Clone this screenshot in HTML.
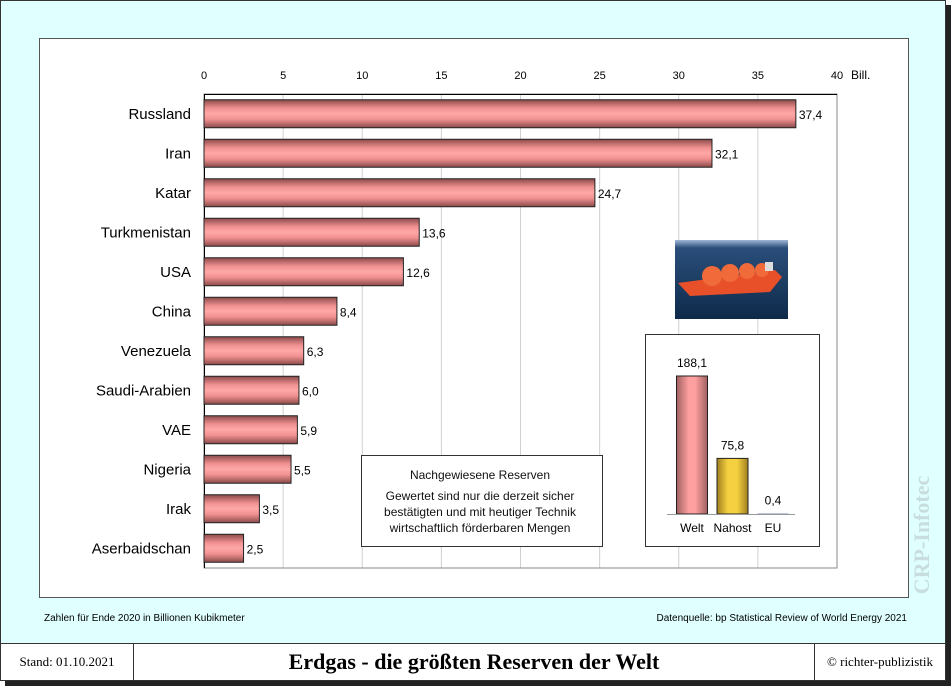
<!DOCTYPE html>
<html><head><meta charset="utf-8">
<style>
body{margin:0;width:951px;height:686px;background:#fff;overflow:hidden;font-family:"Liberation Sans",sans-serif}
svg{display:block}
</style></head>
<body>
<svg id="chart" width="951" height="686" xmlns="http://www.w3.org/2000/svg">
<defs>
<linearGradient id="barG" x1="0" y1="0" x2="0" y2="1">
<stop offset="0" stop-color="#8a4a4a"/><stop offset="0.3" stop-color="#f09090"/>
<stop offset="0.5" stop-color="#ffa8a8"/><stop offset="0.7" stop-color="#f09090"/><stop offset="1" stop-color="#8a4a4a"/>
</linearGradient>
<linearGradient id="vG" x1="0" y1="0" x2="1" y2="0">
<stop offset="0" stop-color="#a06060"/><stop offset="0.4" stop-color="#ffa0a0"/><stop offset="0.6" stop-color="#ffa0a0"/><stop offset="1" stop-color="#a06060"/>
</linearGradient>
<linearGradient id="yG" x1="0" y1="0" x2="1" y2="0">
<stop offset="0" stop-color="#a08020"/><stop offset="0.35" stop-color="#f5d040"/><stop offset="0.65" stop-color="#f5d040"/><stop offset="1" stop-color="#a08020"/>
</linearGradient>
<linearGradient id="sea" x1="0" y1="0" x2="0" y2="1">
<stop offset="0" stop-color="#9fb8d8"/><stop offset="0.1" stop-color="#2a4e7a"/><stop offset="1" stop-color="#0e2a4a"/>
</linearGradient>
</defs>
<rect x="5" y="5" width="946" height="681" fill="#222"/>
<rect x="0.5" y="0.5" width="945" height="680" fill="#e0ffff" stroke="#333"/>
<rect x="39.5" y="38.5" width="869" height="559" fill="#fff" stroke="#555"/>
<g id="grid"></g>
<g id="bars"></g>
<text x="851" y="79" font-size="12">Bill.</text>
<rect x="361.5" y="455.5" width="241" height="91" fill="#fff" stroke="#333"/>
<g font-size="12" text-anchor="middle" fill="#111">
<text x="480" y="479">Nachgewiesene Reserven</text>
<text x="480" y="500">Gewertet sind nur die derzeit sicher</text>
<text x="480" y="516">bestätigten und mit heutiger Technik</text>
<text x="480" y="532">wirtschaftlich förderbaren Mengen</text>
</g>
<g>
<rect x="675" y="240" width="113" height="79" fill="url(#sea)"/>
<path d="M678 283 L775 270 L782 277 L770 292 L690 296 Z" fill="#e8502a"/>
<circle cx="712" cy="276" r="10" fill="#f06a3a"/><circle cx="730" cy="273" r="9" fill="#f06a3a"/>
<circle cx="747" cy="271" r="8" fill="#f06a3a"/><circle cx="762" cy="270" r="7" fill="#f06a3a"/>
<rect x="765" y="262" width="8" height="9" fill="#ddd"/>
</g>
<rect x="645.5" y="334.5" width="174" height="212" fill="#fff" stroke="#333"/>
<g id="inset"></g>
<text x="929" y="535" font-family="Liberation Serif,serif" font-size="22" font-weight="bold" fill="#c8dede" transform="rotate(-90 929 535)" text-anchor="middle">CRP-Infotec</text>
<text x="44" y="621" font-size="10">Zahlen für Ende 2020 in Billionen Kubikmeter</text>
<text x="907" y="621" font-size="10" text-anchor="end">Datenquelle: bp Statistical Review of World Energy 2021</text>
<rect x="1" y="644" width="944" height="36" fill="#fff"/>
<line x1="0" y1="643.5" x2="945" y2="643.5" stroke="#333"/>
<line x1="133.5" y1="643" x2="133.5" y2="680" stroke="#333"/>
<line x1="814.5" y1="643" x2="814.5" y2="680" stroke="#333"/>
<text x="67" y="666" font-family="Liberation Serif,serif" font-size="13" text-anchor="middle">Stand: 01.10.2021</text>
<text x="474" y="669" font-family="Liberation Serif,serif" font-size="22" font-weight="bold" text-anchor="middle">Erdgas - die größten Reserven der Welt</text>
<text x="880" y="666" font-family="Liberation Serif,serif" font-size="13" text-anchor="middle">© richter-publizistik</text>
</svg>
<script>
const categories=["Russland","Iran","Katar","Turkmenistan","USA","China","Venezuela","Saudi-Arabien","VAE","Nigeria","Irak","Aserbaidschan"];
const values=[37.4,32.1,24.7,13.6,12.6,8.4,6.3,6.0,5.9,5.5,3.5,2.5];
const ticks=[0,5,10,15,20,25,30,35,40];
const insetCats=["Welt","Nahost","EU"];
const insetValues=[188.1,75.8,0.4];
const NS="http://www.w3.org/2000/svg";
function mk(t,a,p){const e=document.createElementNS(NS,t);for(const k in a)e.setAttribute(k,a[k]);p.appendChild(e);return e;}
const X0=204,X1=837,PTOP=94,PBOT=568;
const xs=v=>X0+(v-ticks[0])/(ticks[ticks.length-1]-ticks[0])*(X1-X0);
const rowH=(PBOT-PTOP)/categories.length;
const yc=i=>PTOP+rowH*(i+0.5);
const fmt=v=>v.toFixed(1).replace('.',',');
const grid=document.getElementById('grid');
ticks.forEach(t=>{
  const l=mk('line',{x1:xs(t),x2:xs(t),y1:PTOP,y2:PBOT,stroke:'#d0d0d0'},grid);
  
  
  const tx=mk('text',{x:xs(t),y:79,'font-size':11,'text-anchor':'middle'},grid);tx.textContent=t;
  
  
});
mk('rect',{x:X0,y:PTOP,width:X1-X0,height:PBOT-PTOP,fill:'none',stroke:'#888'},grid);
mk('line',{x1:X0+0.5,x2:X0+0.5,y1:PTOP,y2:PBOT,stroke:'#000'},grid);
mk('line',{x1:X0,x2:X1,y1:PTOP+0.5,y2:PTOP+0.5,stroke:'#000'},grid);
const bars=document.getElementById('bars');
categories.forEach((c,i)=>{
  const y=yc(i),h=28;
  const r=mk('rect',{x:X0,y:y-h/2,width:xs(values[i])-X0,height:h,fill:'url(#barG)',stroke:'#222','stroke-width':1},bars);
  
  
  const lb=mk('text',{x:191,y:y+5,'font-size':15,'text-anchor':'end'},bars);lb.textContent=c;
  
  
  const vl=mk('text',{x:xs(values[i])+3,y:y+5,'font-size':12},bars);vl.textContent=fmt(values[i]);
  
  
});
const ins=document.getElementById('inset');
const base=514,maxH=138,maxV=188.1;
const fills=['url(#vG)','url(#yG)','#1a3a9a'];
insetCats.forEach((c,i)=>{
  const cx=692+i*40.5,h=insetValues[i]/maxV*maxH;
  const r=mk('rect',{x:cx-15.5,y:base-h,width:31,height:Math.max(h,1),fill:fills[i],stroke:i<2?'#222':'none'},ins);
  
  
  const v=mk('text',{x:cx,y:base-h-9,'font-size':12,'text-anchor':'middle'},ins);v.textContent=fmt(insetValues[i]);
  
  
  const l=mk('text',{x:cx,y:532,'font-size':12,'text-anchor':'middle'},ins);l.textContent=c;
  
  
});
const bl=mk('line',{x1:667,x2:795,y1:base+0.5,y2:base+0.5,stroke:'#999'},ins);


</script>
</body></html>
